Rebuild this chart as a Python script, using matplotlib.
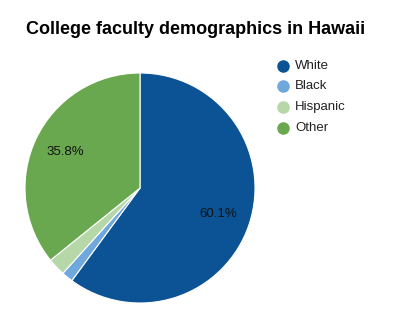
import matplotlib
matplotlib.use("Agg")
import matplotlib.pyplot as plt
from matplotlib.lines import Line2D

title = "College faculty demographics in Hawaii"
categories = ["White", "Black", "Hispanic", "Other"]
shares = [60.1, 1.6, 2.5, 35.8]
colors = ["#0b5394", "#6fa8dc", "#b6d7a8", "#6aa84f"]

plt.rcParams["font.family"] = ["Liberation Sans", "DejaVu Sans"]

W, H = 393, 330
fig = plt.figure(figsize=(W / 100, H / 100), dpi=100)
fig.patch.set_facecolor("white")

cx, cy, r = 140, 188, 115
ax = fig.add_axes([(cx - r) / W, (H - cy - r) / H, 2 * r / W, 2 * r / H])
ax.set_aspect("equal")


def pct_label(p):
    return f"{p:.1f}%" if p >= 5 else ""


wedges, texts, autotexts = ax.pie(
    shares,
    colors=colors,
    startangle=90,
    counterclock=False,
    radius=1.0,
    autopct=pct_label,
    pctdistance=0.72,
    wedgeprops=dict(edgecolor="white", linewidth=0.8),
    textprops=dict(fontsize=9.5, color="#111111"),
)
ax.set_xlim(-1, 1)
ax.set_ylim(-1, 1)
ax.axis("off")

fig.text(196 / W, 1 - 29 / H, title, ha="center", va="center",
         fontsize=13, fontweight="bold", color="black")

leg_y = [66, 86, 107, 128]
for name, col, y in zip(categories, colors, leg_y):
    fig.add_artist(Line2D([283 / W], [1 - y / H], marker="o", markersize=8,
                          markerfacecolor=col, markeredgecolor=col,
                          linestyle="none", transform=fig.transFigure))
    fig.text(295 / W, 1 - y / H, name, ha="left", va="center",
             fontsize=9.5, color="#222222")

fig.savefig("out.png", dpi=100, facecolor="white")
